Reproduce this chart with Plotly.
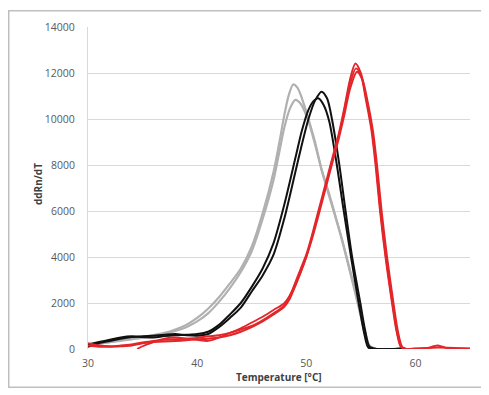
import plotly.graph_objects as go

# ---- data ----
gray1_t = [30, 31, 32, 33, 34, 35, 36, 37, 38, 39, 40, 41, 42, 43, 44, 45, 46, 47, 47.5, 48, 48.4, 48.8, 49.2, 49.6, 50.2, 50.8, 51.4, 52, 52.6, 53.2, 53.8, 54.4, 55, 55.4, 55.8, 56.5, 58, 59]
gray1_v = [150, 220, 300, 380, 450, 520, 600, 700, 850, 1050, 1350, 1750, 2250, 2850, 3500, 4450, 5900, 7700, 8900, 10200, 11050, 11500, 11350, 10900, 10000, 9000, 7800, 6900, 5900, 4900, 3800, 2700, 1500, 700, 150, 0, 0, 30]

gray2_t = [30, 31, 32, 33, 34, 35, 36, 37, 38, 39, 40, 41, 42, 43, 44, 45, 46, 47, 47.5, 48, 48.5, 49, 49.5, 50.2, 50.8, 51.4, 52, 52.6, 53.2, 53.8, 54.4, 55, 55.4, 55.8, 56.5, 58, 59]
gray2_v = [200, 250, 300, 350, 420, 480, 560, 650, 780, 950, 1200, 1550, 2050, 2650, 3350, 4250, 5650, 7350, 8500, 9650, 10450, 10830, 10650, 9900, 8900, 7800, 6800, 5850, 4850, 3750, 2600, 1400, 600, 100, 0, 0, 20]

black1_t = [30, 31, 32, 33, 34, 35, 36, 37, 38, 39, 40, 41, 42, 43, 44, 45, 46, 47, 48, 49, 49.6, 50.2, 50.8, 51.4, 51.9, 52.35, 53, 53.6, 54.2, 54.95, 55.4, 55.8, 56.5, 58, 59]
black1_v = [100, 250, 350, 450, 520, 550, 580, 620, 650, 600, 580, 650, 950, 1350, 1800, 2500, 3200, 4100, 5700, 7700, 8900, 10000, 10800, 11190, 10900, 10000, 8100, 6000, 4000, 2000, 800, 100, 0, 0, 30]

black2_t = [30, 31, 32, 33, 34, 35, 36, 37, 38, 39, 40, 41, 42, 43, 44, 45, 46, 47, 48, 49, 49.6, 50.2, 50.7, 51.1, 51.6, 52.1, 52.8, 53.4, 54.1, 54.8, 55.3, 55.7, 56.5, 58, 59]
black2_v = [200, 300, 400, 500, 550, 520, 500, 560, 600, 620, 650, 750, 1050, 1500, 2000, 2700, 3500, 4600, 6300, 8300, 9500, 10400, 10800, 10900, 10600, 9900, 8000, 6100, 4000, 2000, 700, 50, 0, 0, 20]

red1_t = [30, 31, 32, 33, 34, 35, 36, 37, 38, 39, 40, 41, 42, 43, 44, 45, 46, 47, 48, 48.5, 49, 49.5, 50, 50.5, 51, 51.5, 52, 52.5, 53, 53.5, 54, 54.5, 55, 55.5, 56, 56.4, 56.8, 57.3, 57.9, 58.3, 58.7, 59.1, 60, 61, 62, 62.5, 63, 64, 65]
red1_v = [250, 150, 120, 150, 200, 280, 350, 400, 420, 450, 480, 550, 600, 700, 850, 1000, 1250, 1550, 1900, 2300, 2900, 3500, 4100, 4900, 5800, 6700, 7600, 8500, 9400, 10500, 11700, 12415, 12000, 10900, 9600, 8000, 6000, 4000, 2000, 800, 100, 0, 20, 30, 150, 100, 30, 20, 20]

red2_t = [30, 31, 32, 33, 34, 35, 36, 37, 38, 39, 40, 41, 42, 43, 44, 45, 46, 47, 48, 48.5, 49, 49.5, 50, 50.5, 51, 51.5, 52, 52.5, 53, 53.5, 54, 54.65, 55.15, 55.6, 56.1, 56.5, 56.9, 57.4, 58, 58.4, 58.8, 59.2, 60, 62, 65]
red2_v = [150, 100, 100, 120, 150, 250, 300, 330, 350, 380, 420, 450, 500, 600, 750, 950, 1200, 1500, 1850, 2200, 2750, 3350, 4000, 4750, 5600, 6500, 7400, 8300, 9200, 10200, 11300, 12056, 11700, 10800, 9500, 7900, 6000, 4000, 1950, 750, 80, 0, 10, 60, 10]

red3_t = [34.5, 35, 36, 37, 38, 39, 40, 41, 42, 43, 44, 45, 46, 47, 48, 49, 50, 51, 52, 53, 54, 54.55, 55, 55.45, 55.95, 56.35, 56.75, 57.25, 57.85, 58.25, 58.65, 59.1]
red3_v = [0, 120, 300, 450, 500, 450, 400, 350, 500, 700, 900, 1150, 1400, 1700, 2000, 2800, 4000, 5700, 7500, 9300, 11500, 12200, 11900, 10850, 9550, 7950, 6000, 4000, 2000, 800, 100, 0]

y_ticks = [0, 2000, 4000, 6000, 8000, 10000, 12000, 14000]
y_tick_labels = ["0", "2000", "4000", "6000", "8000", "10000", "12000", "14000"]
x_ticks = [30, 40, 50, 60]
x_tick_labels = ["30", "40", "50", "60"]

GRAY = "#b0b0b0"
BLACK = "#111111"
RED = "#e3262a"

series = [
    (gray1_t, gray1_v, GRAY, 2.2),
    (gray2_t, gray2_v, GRAY, 2.2),
    (black1_t, black1_v, BLACK, 2),
    (black2_t, black2_v, BLACK, 2),
    (red3_t, red3_v, RED, 1.8),
    (red2_t, red2_v, RED, 2),
    (red1_t, red1_v, RED, 2),
]

fig = go.Figure()
for t, v, c, w in series:
    fig.add_trace(go.Scatter(x=t, y=v, mode="lines",
                             line=dict(color=c, width=w, shape="spline", smoothing=0.8),
                             showlegend=False, hoverinfo="skip"))

font_family = "Open Sans, Liberation Sans, sans-serif"

fig.update_layout(
    width=481, height=387,
    margin=dict(l=80, r=19, t=17, b=46),
    paper_bgcolor="white", plot_bgcolor="white",
    font=dict(family=font_family, size=10.5, color="#595959"),
    xaxis=dict(range=[30, 65], tickvals=x_ticks, ticktext=x_tick_labels, showgrid=False,
               zeroline=False, showline=False, ticks="", ticklabelstandoff=6,
               tickfont=dict(size=10.5, color="#595959")),
    yaxis=dict(range=[0, 14000], tickvals=y_ticks, ticktext=y_tick_labels, showgrid=True,
               gridcolor="#d9d9d9", gridwidth=1, zeroline=False, showline=True,
               linecolor="#d9d9d9", linewidth=1, ticks="", ticklabelstandoff=10,
               tickfont=dict(size=10.5, color="#595959")),
    shapes=[dict(type="rect", xref="paper", yref="paper",
                 x0=-0.2075, x1=1.038, y0=-0.1188, y1=1.0502,
                 line=dict(color="#bfbfbf", width=1.5), fillcolor="rgba(0,0,0,0)", layer="above")],
    annotations=[
        dict(text="<b>ddRn/dT</b>", textangle=-90, xref="paper", yref="paper",
             x=-0.131, y=0.512, showarrow=False, xanchor="center", yanchor="middle",
             font=dict(size=10, color="#404040", family=font_family)),
        dict(text="<b>Temperature [°C]</b>", xref="paper", yref="paper",
             x=0.5, y=-0.0864, showarrow=False, xanchor="center", yanchor="middle",
             font=dict(size=10, color="#404040", family=font_family)),
    ],
)

fig.write_html("out.html")
